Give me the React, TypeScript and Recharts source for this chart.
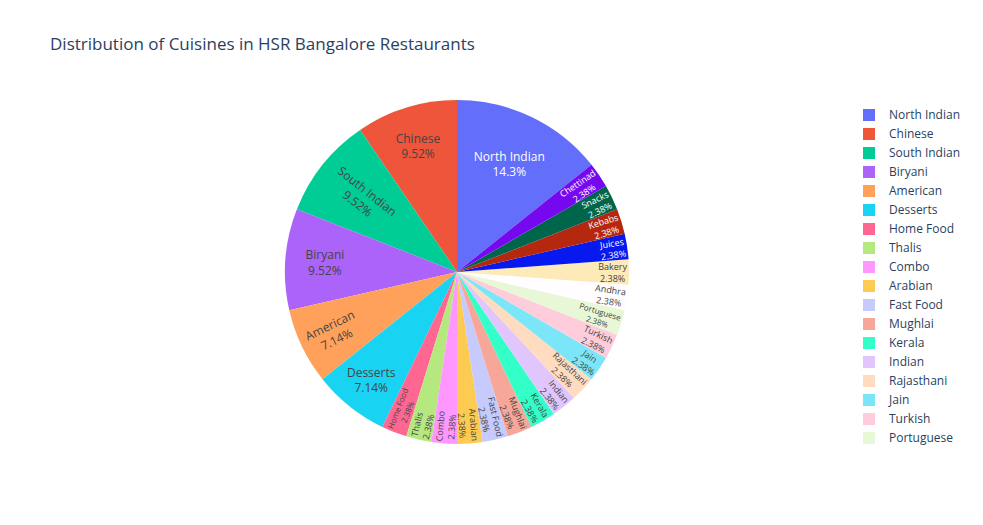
import React from 'react';
import { Cell, Legend, Pie, PieChart } from 'recharts';

// data (restaurant counts per cuisine)
const cuisines = [
  'North Indian', 'Chinese', 'South Indian', 'Biryani', 'American', 'Desserts',
  'Home Food', 'Thalis', 'Combo', 'Arabian', 'Fast Food', 'Mughlai', 'Kerala',
  'Indian', 'Rajasthani', 'Jain', 'Turkish', 'Portuguese', 'Andhra', 'Bakery',
  'Juices', 'Kebabs', 'Snacks', 'Chettinad',
];
const counts = [6, 4, 4, 4, 3, 3, 1, 1, 1, 1, 1, 1, 1, 1, 1, 1, 1, 1, 1, 1, 1, 1, 1, 1];

// plotly colorway, extended lighter / darker
const colors = [
  '#636efa', '#EF553B', '#00cc96', '#ab63fa', '#FFA15A', '#19d3f3', '#FF6692', '#B6E880', '#FF97FF', '#FECB52',
  '#c6cafd', '#f7a799', '#33ffc9', '#e0c6fd', '#ffdbc0', '#7ae6f8', '#ffccdb', '#e8f8d6', '#fffdff', '#fee9b8',
  '#0819ef', '#b5270f', '#00664b', '#7608ef',
];

const FONT = '"Open Sans", verdana, arial, sans-serif';
const TEXT = '#2a3f5f';
const LEGEND_ROWS = 18;
const radialBig = new Set(['South Indian', 'American']);

const data = cuisines.map((name, i) => ({ name, value: counts[i] }));
const total = counts.reduce((a, b) => a + b, 0);
const start = 90 - (360 * counts[0]) / total;

const isLight = (hex: string) => {
  const h = hex.replace('#', '');
  const r = parseInt(h.slice(0, 2), 16);
  const g = parseInt(h.slice(2, 4), 16);
  const b = parseInt(h.slice(4, 6), 16);
  return (r * 299 + g * 587 + b * 114) / 1000 >= 128;
};

// width of a string at 1px font size
const ctx = typeof document !== 'undefined' ? document.createElement('canvas').getContext('2d') : null;
const unitWidth = (s: string) => {
  if (!ctx) return s.length * 0.55;
  ctx.font = '100px "Open Sans"';
  return ctx.measureText(s).width / 100;
};

const renderLabel = (props: any) => {
  const { cx, cy, midAngle, outerRadius, percent, name, value, index } = props;
  const small = value === 1;
  let a = midAngle % 360;
  if (a < 0) a += 360;
  const pct = (percent * 100).toPrecision(3) + '%';
  const horizontal = small ? a < 4 || a > 356 : !radialBig.has(name);

  let fs = 12;
  let r: number;
  if (small) {
    const w1 = Math.max(unitWidth(name), unitWidth(pct));
    fs = Math.min(9, 43 / w1);
    r = outerRadius - (w1 * fs) / 2 - 2;
  } else {
    const k = value >= 6 ? 0.7 : name === 'South Indian' ? 0.7 : value >= 4 ? 0.77 : 0.8;
    r = outerRadius * k;
  }
  const x = cx + r * Math.cos((-a * Math.PI) / 180);
  const y = cy + r * Math.sin((-a * Math.PI) / 180);
  let rot = 0;
  if (!horizontal) rot = a > 90 && a < 270 ? 180 - a : a >= 270 ? 360 - a : -a;
  const lh = fs * 1.3;
  const fill = isLight(colors[index]) ? '#444' : '#fff';
  return (
    <text
      x={x}
      y={y}
      textAnchor="middle"
      dominantBaseline="central"
      transform={`rotate(${rot} ${x} ${y})`}
      fill={fill}
      style={{ fontFamily: FONT, fontSize: fs }}
    >
      <tspan x={x} y={y - lh / 2}>{name}</tspan>
      <tspan x={x} y={y + lh / 2}>{pct}</tspan>
    </text>
  );
};

const renderLegend = (props: any) => {
  const items = [...(props.payload || [])]
    .sort((p: any, q: any) => cuisines.indexOf(p.value) - cuisines.indexOf(q.value))
    .slice(0, LEGEND_ROWS);
  return (
    <div>
      {items.map((it: any, i: number) => (
        <div key={i} style={{ height: 19, display: 'flex', alignItems: 'center' }}>
          <span style={{ display: 'inline-block', width: 12, height: 12, marginLeft: 8, background: it.color }} />
          <span style={{ marginLeft: 14, fontFamily: FONT, fontSize: 12, color: TEXT, whiteSpace: 'nowrap' }}>
            {it.value}
          </span>
        </div>
      ))}
    </div>
  );
};

export default function App() {
  return (
    <div style={{ position: 'absolute', left: 0, top: 0, width: 983, height: 525, background: '#fff' }}>
      <div
        style={{
          position: 'absolute', left: 50, top: 35, fontFamily: FONT, fontSize: 17,
          lineHeight: '17px', color: TEXT, whiteSpace: 'nowrap',
        }}
      >
        Distribution of Cuisines in HSR Bangalore Restaurants
      </div>
      <PieChart width={983} height={525} margin={{ top: 0, right: 0, bottom: 0, left: 0 }}>
        <Pie
          data={data}
          dataKey="value"
          nameKey="name"
          cx={457}
          cy={272}
          outerRadius={172}
          startAngle={start}
          endAngle={start + 360}
          stroke="none"
          labelLine={false}
          label={renderLabel}
          isAnimationActive={false}
        >
          {data.map((d, i) => (
            <Cell key={d.name} fill={colors[i]} />
          ))}
        </Pie>
        <Legend
          layout="vertical"
          align="right"
          verticalAlign="top"
          content={renderLegend}
          wrapperStyle={{ position: 'absolute', left: 855, top: 105, width: 128 }}
        />
      </PieChart>
    </div>
  );
}
